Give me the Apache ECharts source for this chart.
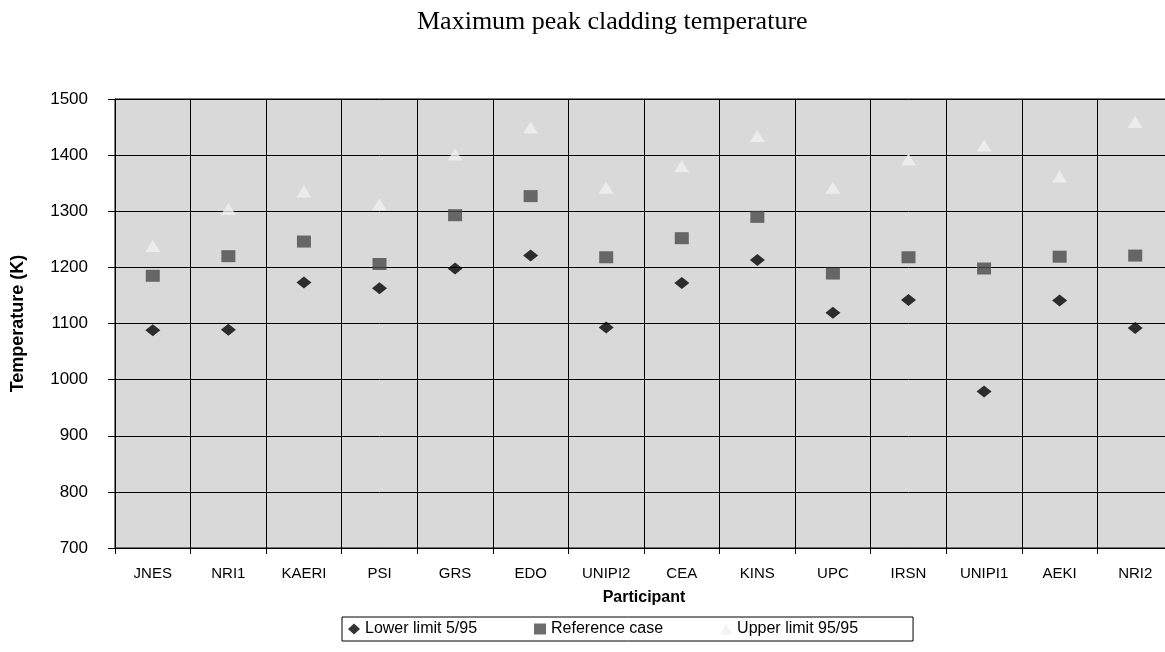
<!DOCTYPE html>
<html>
<head>
<meta charset="utf-8">
<script src="https://cdn.jsdelivr.net/npm/echarts@6/dist/echarts.min.js"></script>
<style>
html,body{margin:0;padding:0;background:#fff;overflow:hidden;width:1165px;height:652px;}
#chart{width:1175px;height:652px;}
</style>
</head>
<body>
<div id="chart"></div>
<script>
const participants = ['JNES','NRI1','KAERI','PSI','GRS','EDO','UNIPI2','CEA','KINS','UPC','IRSN','UNIPI1','AEKI','NRI2'];
const lowerLimit = [1088, 1089, 1173, 1163, 1198, 1221, 1093, 1172, 1213, 1119, 1142, 979, 1141, 1092];
const referenceCase = [1185, 1220, 1246, 1206, 1293, 1327, 1218, 1252, 1290, 1189, 1218, 1198, 1219, 1221];
const upperLimit = [1238, 1304, 1335, 1312, 1401, 1449, 1342, 1380, 1434, 1342, 1392, 1417, 1362, 1459];
const yTicks = [700, 800, 900, 1000, 1100, 1200, 1300, 1400, 1500];

const chart = echarts.init(document.getElementById('chart'), null, {renderer: 'canvas'});
const sans = 'Liberation Sans, Arial, sans-serif';
chart.setOption({
  animation: false,
  backgroundColor: '#ffffff',
  title: {
    text: 'Maximum peak cladding temperature',
    left: 412,
    top: 4,
    textStyle: {fontFamily: 'Liberation Serif, Times New Roman, serif', fontSize: 26, fontWeight: 'normal', color: '#000'}
  },
  grid: {
    left: 115, right: 2, top: 99, bottom: 104,
    show: true, backgroundColor: '#d9d9d9', borderColor: '#000', borderWidth: 1
  },
  legend: {
    left: 342, top: 617,
    padding: [4, 55, 4, 6],
    borderColor: '#000', borderWidth: 1,
    itemGap: 57,
    itemWidth: 12, itemHeight: 11,
    textStyle: {fontFamily: sans, fontSize: 16, color: '#000'},
    data: [
      {name: 'Lower limit 5/95', icon: 'diamond'},
      {name: 'Reference case', icon: 'rect'},
      {name: 'Upper limit 95/95', icon: 'triangle'}
    ]
  },
  xAxis: {
    type: 'category',
    data: participants,
    boundaryGap: true,
    name: 'Participant',
    nameLocation: 'middle',
    nameGap: 42,
    nameTextStyle: {fontFamily: sans, fontSize: 16, fontWeight: 'bold', color: '#000'},
    axisLine: {show: true, lineStyle: {color: '#000', width: 1}},
    axisTick: {show: true, length: 6, lineStyle: {color: '#000'}},
    axisLabel: {fontFamily: sans, fontSize: 15, color: '#000', margin: 18},
    splitLine: {show: true, lineStyle: {color: '#000', width: 1}}
  },
  yAxis: {
    type: 'value',
    min: yTicks[0], max: yTicks[yTicks.length - 1], interval: 100,
    name: 'Temperature (K)',
    nameLocation: 'middle',
    nameRotate: 90,
    nameGap: 88,
    nameTextStyle: {fontFamily: sans, fontSize: 18, fontWeight: 'bold', color: '#000'},
    axisLine: {show: true, lineStyle: {color: '#000', width: 1}},
    axisTick: {show: true, length: 7, lineStyle: {color: '#000'}},
    axisLabel: {fontFamily: sans, fontSize: 17, color: '#000', margin: 27, formatter: v => String(v)},
    splitLine: {show: true, lineStyle: {color: '#000', width: 1}}
  },
  series: [
    {
      name: 'Lower limit 5/95', type: 'scatter', data: lowerLimit,
      symbol: 'diamond', symbolSize: [15, 12],
      itemStyle: {color: '#000000'}
    },
    {
      name: 'Reference case', type: 'scatter', data: referenceCase,
      symbol: 'rect', symbolSize: [14, 12],
      itemStyle: {color: '#484848'}
    },
    {
      name: 'Upper limit 95/95', type: 'scatter', data: upperLimit,
      symbol: 'triangle', symbolSize: [15, 12],
      itemStyle: {color: '#f0f0f0'}
    }
  ]
});
</script>
</body>
</html>
